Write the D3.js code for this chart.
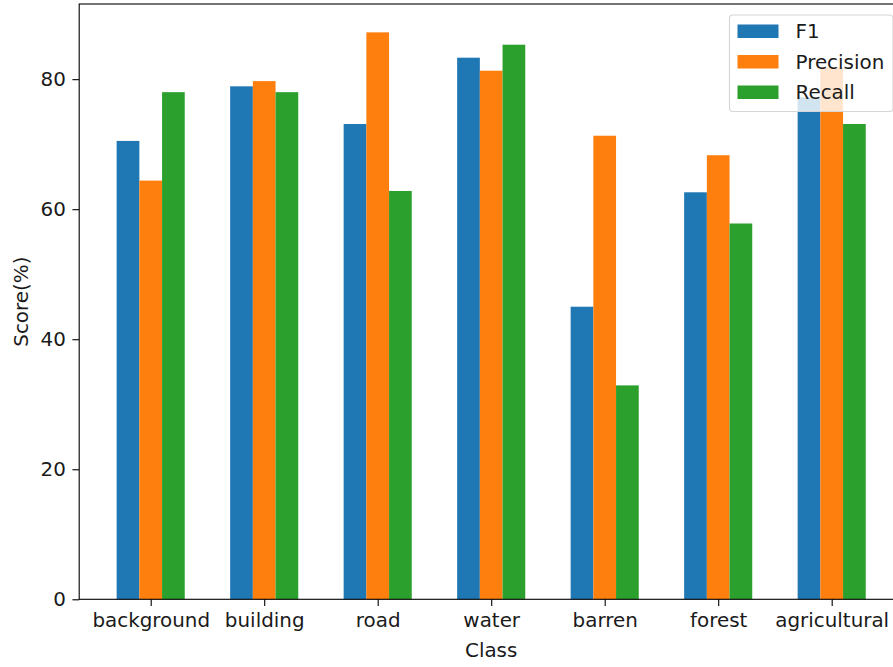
<!DOCTYPE html>
<html>
<head>
<meta charset="utf-8">
<script src="https://cdn.jsdelivr.net/npm/d3@7/dist/d3.min.js"></script>
<style>
  html, body { margin: 0; padding: 0; background: #fff; }
  svg { display: block; }
  text { font-family: "DejaVu Sans", sans-serif; fill: #1a1a1a; }
</style>
</head>
<body>
<svg id="chart" width="893" height="667"></svg>
<script>
// Per-class segmentation scores (%)
const categories = ["background", "building", "road", "water", "barren", "forest", "agricultural"];
const f1        = [70.5, 78.9, 73.1, 83.3, 45.0, 62.6, 77.2];
const precision = [64.4, 79.7, 87.2, 81.3, 71.3, 68.3, 81.8];
const recall    = [78.0, 78.0, 62.8, 85.3, 32.9, 57.8, 73.1];
const seriesNames = ["F1", "Precision", "Recall"];
const seriesColors = ["#1f77b4", "#ff7f0e", "#2ca02c"];
const yTicks = [0, 20, 40, 60, 80];

const series = [f1, precision, recall];

const svg = d3.select("#chart");
const plot = { left: 79.2, right: 903.2, top: 4, bottom: 599.3 };
const fontSize = 19.9;
const tickLen = 6.8;

// x: category index, with a margin around the outer bars
const barW = 0.2;
const span = (categories.length - 1) + 3 * barW;
const pad = span * 0.05 + 1.5 * barW;
const xIdx = d3.scaleLinear()
  .domain([-pad, categories.length - 1 + pad])
  .range([plot.left, plot.right]);
const x = d3.scalePoint()
  .domain(categories)
  .range([xIdx(0), xIdx(categories.length - 1)]);
const step = xIdx(1) - xIdx(0);

const maxVal = d3.max(series.flat());
const y = d3.scaleLinear()
  .domain([0, maxVal * 1.05])
  .range([plot.bottom, plot.top]);

// Bars
series.forEach((vals, si) => {
  svg.append("g")
    .selectAll("rect")
    .data(vals)
    .join("rect")
    .attr("x", (d, i) => x(categories[i]) + (si - 1.5) * barW * step)
    .attr("y", d => y(d))
    .attr("width", barW * step)
    .attr("height", d => y(0) - y(d))
    .attr("fill", seriesColors[si]);
});

// Axes frame
svg.append("rect")
  .attr("x", plot.left).attr("y", plot.top)
  .attr("width", plot.right - plot.left).attr("height", plot.bottom - plot.top)
  .attr("fill", "none").attr("stroke", "#000").attr("stroke-width", 1.1);

// Bottom axis
const xAxis = svg.append("g")
  .attr("transform", `translate(0,${plot.bottom})`)
  .call(d3.axisBottom(x).tickSize(tickLen).tickPadding(6.5).tickSizeOuter(0));
xAxis.select(".domain").remove();
xAxis.selectAll("line").attr("stroke", "#000").attr("stroke-width", 1.1);
xAxis.selectAll("text").style("font-size", fontSize + "px").attr("fill", "#1a1a1a")
  .style("font-family", "DejaVu Sans, sans-serif");

// Left axis
const yAxis = svg.append("g")
  .attr("transform", `translate(${plot.left},0)`)
  .call(d3.axisLeft(y).tickValues(yTicks).tickFormat(d3.format("d")).tickSize(tickLen).tickPadding(6.5).tickSizeOuter(0));
yAxis.select(".domain").remove();
yAxis.selectAll("line").attr("stroke", "#000").attr("stroke-width", 1.1);
yAxis.selectAll("text").style("font-size", fontSize + "px").attr("fill", "#1a1a1a")
  .style("font-family", "DejaVu Sans, sans-serif");

// Axis titles
svg.append("text")
  .attr("x", (plot.left + plot.right) / 2)
  .attr("y", 657)
  .attr("text-anchor", "middle")
  .style("font-size", fontSize + "px")
  .text("Class");

svg.append("text")
  .attr("transform", `translate(28,${(plot.top + plot.bottom) / 2}) rotate(-90)`)
  .attr("text-anchor", "middle")
  .style("font-size", fontSize + "px")
  .text("Score(%)");

// Legend
const legend = svg.append("g");
legend.append("rect")
  .attr("x", 729.5).attr("y", 15)
  .attr("width", 163.5).attr("height", 96.5)
  .attr("rx", 3.5)
  .attr("fill", "#fff").attr("fill-opacity", 0.8)
  .attr("stroke", "#d6d6d6").attr("stroke-width", 1.1);

seriesNames.forEach((name, i) => {
  const cy = 31 + i * 30.5;
  legend.append("rect")
    .attr("x", 737.5).attr("y", cy - 6.5)
    .attr("width", 41).attr("height", 13.5)
    .attr("fill", seriesColors[i]);
  legend.append("text")
    .attr("x", 795.5).attr("y", cy + 7)
    .style("font-size", fontSize + "px")
    .text(name);
});
</script>
</body>
</html>
